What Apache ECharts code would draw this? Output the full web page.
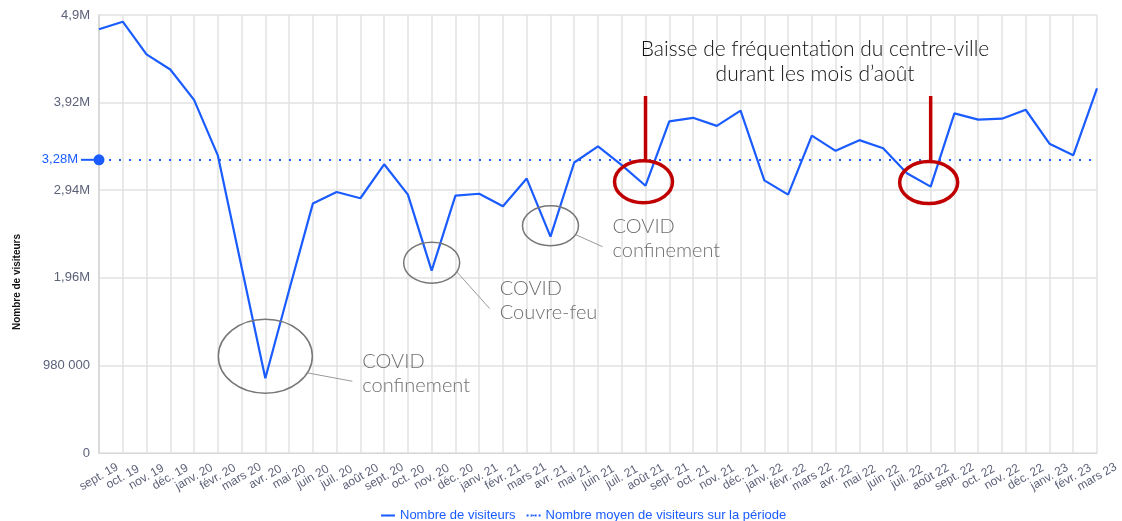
<!DOCTYPE html>
<html>
<head>
<meta charset="utf-8">
<script src="https://cdn.jsdelivr.net/npm/echarts@6/dist/echarts.min.js"></script>
<style>
  html, body { margin: 0; padding: 0; background: #fff; }
  #chart { width: 1122px; height: 521px; }
</style>
</head>
<body>
<div id="chart"></div>
<script>
// ---------- données ----------
const months = [
  'sept. 19', 'oct. 19', 'nov. 19', 'déc. 19', 'janv. 20', 'févr. 20', 'mars 20', 'avr. 20', 'mai 20', 'juin 20',
  'juil. 20', 'août 20', 'sept. 20', 'oct. 20', 'nov. 20', 'déc. 20', 'janv. 21', 'févr. 21', 'mars 21', 'avr. 21',
  'mai 21', 'juin 21', 'juil. 21', 'août 21', 'sept. 21', 'oct. 21', 'nov. 21', 'déc. 21', 'janv. 22', 'févr. 22',
  'mars 22', 'avr. 22', 'mai 22', 'juin 22', 'juil. 22', 'août 22', 'sept. 22', 'oct. 22', 'nov. 22', 'déc. 22',
  'janv. 23', 'févr. 23', 'mars 23',
]
const visitors = [
  4740000, 4825000, 4460000, 4290000, 3950000, 3330000, 2080000, 836000, 1820000, 2790000,
  2920000, 2850000, 3230000, 2890000, 2040000, 2880000, 2900000, 2760000, 3070000, 2420000,
  3250000, 3430000, 3220000, 2990000, 3710000, 3750000, 3660000, 3830000, 3050000, 2890000,
  3550000, 3380000, 3500000, 3410000, 3130000, 2980000, 3800000, 3730000, 3740000, 3840000,
  3460000, 3330000, 4080000,
]
const avgVisitors = 3280000
const yTickLabels = ['0', '980 000', '1,96M', '2,94M', '3,92M', '4,9M']

// annotations : index du mois visé
const covidNotes = [
  { idx: 7, lines: ['COVID', 'confinement'], rx: 47, ry: 37, dy: -22, tx: 97, ty: -17 },
  { idx: 14, lines: ['COVID', 'Couvre-feu'], rx: 28, ry: 20.5, dy: -8, tx: 68, ty: 18 },
  { idx: 19, lines: ['COVID', 'confinement'], rx: 28, ry: 20, dy: -11, tx: 62, ty: -10 },
]
const augustNotes = [23, 35]

const BLUE = '#1a5cff'
const AXIS_TXT = '#5d6178'
const GREY = '#6f6f6f'
const RED = '#c00000'

const chart = echarts.init(document.getElementById('chart'))

chart.setOption({
  animation: false,
  textStyle: { fontFamily: 'Liberation Sans, Arial, sans-serif' },
  grid: { left: 99, right: 25, top: 15, bottom: 68 },
  legend: {
    bottom: -6, left: 375,
    itemWidth: 14, itemHeight: 2, itemGap: 10,
    textStyle: { color: BLUE, fontSize: 13 },
    data: ['Nombre de visiteurs', 'Nombre moyen de visiteurs sur la période'],
  },
  xAxis: {
    type: 'category', data: months, boundaryGap: false,
    axisLine: { lineStyle: { color: '#d6d6d6' } },
    axisTick: { show: false },
    splitLine: { show: true, lineStyle: { color: '#e2e2e2', width: 1.5 } },
    axisLabel: {
      interval: 0, rotate: 30, align: 'center', verticalAlign: 'middle', margin: 24,
      color: AXIS_TXT, fontSize: 12,
    },
  },
  yAxis: {
    type: 'value', min: 0, max: 4900000, interval: 980000,
    axisLine: { show: true, lineStyle: { color: '#d6d6d6', width: 1.5 } },
    axisTick: { show: false },
    splitLine: { lineStyle: { color: '#e2e2e2', width: 1.5 } },
    axisLabel: { color: AXIS_TXT, fontSize: 13, margin: 9, formatter: (v, i) => yTickLabels[i] },
  },
  series: [
    {
      name: 'Nombre de visiteurs', type: 'line', data: visitors,
      symbol: 'none', lineStyle: { color: BLUE, width: 2.2 }, itemStyle: { color: BLUE },
      z: 3,
    },
    {
      name: 'Nombre moyen de visiteurs sur la période', type: 'line', data: [],
      symbol: 'none', lineStyle: { color: BLUE, width: 2, type: 'dotted' }, itemStyle: { color: BLUE },
      markLine: {
        silent: true, symbol: ['circle', 'none'], symbolSize: 11,
        lineStyle: { color: BLUE, width: 2, type: [2, 8] },
        label: {
          position: 'start', distance: 2,
          formatter: '{t|3,28M}{l|}',
          rich: {
            t: { color: BLUE, fontSize: 13, padding: [0, 3, 0, 0] },
            l: { width: 16, height: 2, backgroundColor: BLUE },
          },
        },
        data: [{ yAxis: avgVisitors }],
      },
    },
  ],
})

// ---------- annotations posées à partir des coordonnées du graphique ----------
function px(i) { return chart.convertToPixel({ gridIndex: 0 }, [i, visitors[i]]) }

const graphics = []
graphics.push({
  type: 'text', x: 17, y: 282, rotation: Math.PI / 2,
  style: { text: 'Nombre de visiteurs', fill: '#111', font: 'bold 10px "Liberation Sans Narrow", "Liberation Sans", Arial', align: 'center', verticalAlign: 'middle' },
})

covidNotes.forEach(n => {
  const [x, y] = px(n.idx)
  const cy = y + n.dy
  graphics.push({ type: 'ellipse', shape: { cx: x, cy: cy, rx: n.rx, ry: n.ry }, style: { fill: 'none', stroke: '#777', lineWidth: 1.5 }, z: 10 })
  const sx = x + n.rx * 0.9, sy = cy + n.ry * 0.45
  graphics.push({ type: 'line', shape: { x1: sx, y1: sy, x2: x + n.tx - 10, y2: y + n.ty + 20 }, style: { stroke: '#999', lineWidth: 1 }, z: 10 })
  n.lines.forEach((t, k) => graphics.push({
    type: 'text', x: x + n.tx, y: y + n.ty + k * 24,
    style: { text: t, fill: GREY, font: '300 20px Lato, "Open Sans", sans-serif', verticalAlign: 'middle' }, z: 10,
  }))
})

augustNotes.forEach(idx => {
  const [x, y] = px(idx)
  graphics.push({ type: 'ellipse', shape: { cx: x - 2, cy: y - 4, rx: 29, ry: 21 }, style: { fill: 'none', stroke: RED, lineWidth: 3.5 }, z: 10 })
  graphics.push({ type: 'line', shape: { x1: x, y1: 96, x2: x, y2: y - 25 }, style: { stroke: RED, lineWidth: 3.5 }, z: 10 })
})

graphics.push({
  type: 'text', x: 815, y: 62,
  style: { text: 'Baisse de fréquentation du centre-ville\ndurant les mois d’août', fill: '#111', font: '300 21px Lato, "Open Sans", sans-serif', align: 'center', verticalAlign: 'middle', lineHeight: 25 },
  z: 10,
})

chart.setOption({ graphic: graphics })
</script>
</body>
</html>
